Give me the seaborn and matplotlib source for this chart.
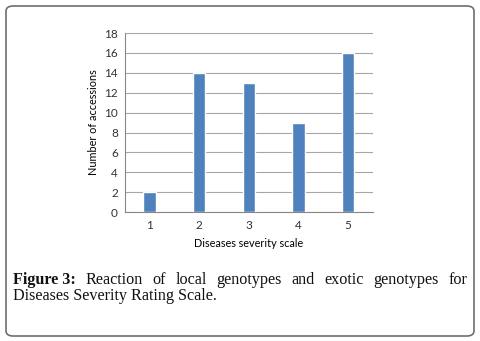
import matplotlib
matplotlib.use("Agg")
import matplotlib.pyplot as plt
import seaborn as sns
import pandas as pd
from matplotlib.patches import FancyBboxPatch

scale = ["1", "2", "3", "4", "5"]
accessions = [2, 14, 13, 9, 16]
y_ticks = [0, 2, 4, 6, 8, 10, 12, 14, 16, 18]

line1 = ["Reaction", "of", "local", "genotypes", "and", "exotic", "genotypes", "for"]
line2 = "Diseases Severity Rating Scale."

df = pd.DataFrame({"scale": scale, "n": accessions})

sns.set_style("white")
plt.rcParams["font.family"] = ["Lato", "DejaVu Sans"]

fig = plt.figure(figsize=(4.8, 3.41), dpi=100)
ax = fig.add_axes([0.260, 0.378, 0.517, 0.525])

sns.barplot(data=df, x="scale", y="n", color="#4F81BD", width=0.25,
            saturation=1, ax=ax, zorder=3)

ax.set_ylim(0, 18)
ax.set_yticks(y_ticks)
ax.yaxis.grid(True, color="#A6A6A6", linewidth=0.8, zorder=0)
ax.set_axisbelow(True)
for s in ["top", "right"]:
    ax.spines[s].set_visible(False)
for s in ["left", "bottom"]:
    ax.spines[s].set_color("#878787")
    ax.spines[s].set_linewidth(0.8)
ax.tick_params(axis="y", length=3, color="#878787", labelsize=8.5, labelcolor="#333333", pad=2)
ax.tick_params(axis="x", length=0, labelsize=8.5, labelcolor="#333333", pad=6)
ax.set_xlabel("Diseases severity scale", fontsize=7.8, color="#000000", labelpad=5)
ax.set_ylabel("Number of accessions", fontsize=7.8, color="#000000", labelpad=4)

# outer rounded frame
frame = FancyBboxPatch((6 / 480, 5 / 341), 468 / 480, 330 / 341,
                       boxstyle="round,pad=0,rounding_size=0.015",
                       transform=fig.transFigure, facecolor="none",
                       edgecolor="#6E6E6E", linewidth=1.2)
fig.patches.append(frame)

# caption, first line justified
serif = ["Liberation Serif", "DejaVu Serif"]
fs = 11.6
renderer = fig.canvas.get_renderer()
words = [("Figure 3:", "bold")] + [(w, "normal") for w in line1]
texts = []
for w, wt in words:
    t = fig.text(0, 0, w, fontsize=fs, family=serif, fontweight=wt, color="#111111")
    texts.append(t)
widths = [t.get_window_extent(renderer).width for t in texts]
x0, x1 = 13, 467
gap = (x1 - x0 - sum(widths)) / (len(words) - 1)
x = x0
for t, w in zip(texts, widths):
    t.set_position((x / 480, 1 - 284 / 341))
    x += w + gap
fig.text(13 / 480, 1 - 300 / 341, line2, fontsize=fs, family=serif, color="#111111")

fig.savefig("out.png", dpi=100)
